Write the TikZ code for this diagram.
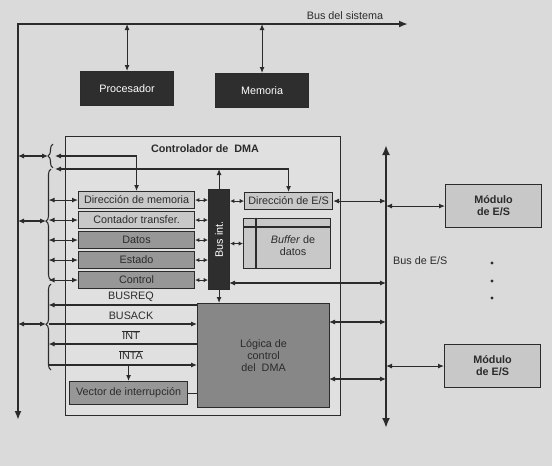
\documentclass[tikz,border=0pt]{standalone}
\usepackage{fontspec}
\setmainfont{Liberation Sans}
\usetikzlibrary{arrows.meta,decorations.pathreplacing,calc}
\definecolor{pagebg}{HTML}{DADADA}
\definecolor{ink}{HTML}{2B2B2B}
\definecolor{darkbox}{HTML}{2E2E2E}
\definecolor{lightbox}{HTML}{C8C8C8}
\definecolor{midbox}{HTML}{979797}
\definecolor{logicbox}{HTML}{878787}
\definecolor{ctrlbox}{HTML}{E0E0E0}
\newcommand{\dfont}{\fontsize{10.8}{12}\selectfont}
\begin{document}
\begin{tikzpicture}[x=1pt,y=-1pt,
 txt/.style={font=\dfont, text=ink, inner sep=0pt},
 box/.style={txt, draw=ink, line width=1.1pt, anchor=north west, align=center},
 ln/.style={draw=ink, line width=1.05pt},
 dar/.style={ln, {Latex[length=6pt,width=5pt]}-{Latex[length=6pt,width=5pt]}},
 ar/.style={ln, -{Latex[length=6pt,width=5pt]}},
 sdar/.style={ln, {Latex[length=4.3pt,width=4.3pt]}-{Latex[length=4.3pt,width=4.3pt]}},
 sysbus/.style={draw=ink, line width=2.2pt, {Latex[length=9pt,width=7pt]}-{Latex[length=9pt,width=7pt]}},
 iobus/.style={draw=ink, line width=2.8pt, {Latex[length=10pt,width=8pt]}-{Latex[length=10pt,width=8pt]}},
 brc/.style={ln, decorate, decoration={brace, amplitude=5pt, aspect=#1}},
 dotnode/.style={circle, fill=ink, inner sep=0pt, minimum size=3.4pt}
]
\fill[pagebg] (0,0) rectangle (552,466);
\useasboundingbox (0,0) rectangle (552,466);

% system bus
\coordinate (sbC) at (18,24);
\coordinate (sbB) at (18,420);
\coordinate (sbE) at (408,24);
\draw[sysbus] (sbB) -- (sbC) -- (sbE);
\node[txt, anchor=south] (sblabel) at (345,20) {Bus del sistema};

% processor and memory
\node[box, fill=darkbox, text=white, minimum width=93pt, minimum height=34pt] (proc) at (80,71) {Procesador};
\node[box, fill=darkbox, text=white, minimum width=93pt, minimum height=34pt] (mem) at (215,73) {Memoria};
\draw[dar] (proc.north |- sbC) -- (proc.north);
\draw[dar] (mem.north |- sbC) -- (mem.north);

% controller
\node[box, fill=ctrlbox, minimum width=275pt, minimum height=279pt] (dmac) at (65,136) {};
\node[txt, font=\bfseries\dfont] (dmatitle) at (205,149) {Controlador de \ DMA};

% registers
\node[box, fill=lightbox, minimum width=116pt, minimum height=17pt] (rdir) at (78,191) {Dirección de memoria};
\node[box, fill=lightbox, minimum width=116pt, minimum height=17pt] (rcnt) at (78,211) {Contador transfer.};
\node[box, fill=midbox, minimum width=116pt, minimum height=17pt] (rdat) at (78,231) {Datos};
\node[box, fill=midbox, minimum width=116pt, minimum height=17pt] (rest) at (78,251) {Estado};
\node[box, fill=midbox, minimum width=116pt, minimum height=17pt] (rctl) at (78,271) {Control};

% internal bus
\node[box, fill=darkbox, minimum width=21pt, minimum height=100pt] (busint) at (208,189) {};
\node[txt, text=white, rotate=90] (busintlbl) at (busint.center) {Bus int.};
\foreach \r in {rdir,rcnt,rdat,rest,rctl}
  \draw[sdar] (\r.east) -- (\r.east -| busint.west);

% I/O address and buffer
\node[box, fill=lightbox, minimum width=88pt, minimum height=17pt] (rdes) at (244,192) {Dirección de E/S};
\draw[sdar] (busint.east |- rdes.west) -- (rdes.west);
\node[box, fill=lightbox, minimum width=87pt, minimum height=50pt] (buf) at (243,218) {};
\draw[ln] ($(buf.north west)+(0,9)$) -- ($(buf.north east)+(0,9)$);
\draw[ln] ($(buf.north west)+(13,0)$) -- ($(buf.south west)+(13,0)$);
\node[txt, align=center] (buftxt) at ($(buf.center)+(6,2)$) {\textit{Buffer} de\\datos};
\draw[sdar] (busint.east |- buf.west) -- (buf.west);

% brace 1 (address lines)
\draw[brc=0.5] (53,168) -- (53,144);
\coordinate (b1tip) at (48,156);
\draw[dar] (sbC |- b1tip) -- (b1tip);
\coordinate (la) at (55,156);
\coordinate (lb) at (55,169);
\draw[dar] (la) -| (rdir.north);
\draw[dar] (lb) -| (rdes.north);
\draw[ar] (busint.north) -- (busint.north |- lb);

% brace 2 (registers)
\draw[brc=0.53] (51,280) -- (51,169);
\coordinate (b2tip) at (46,221);
\draw[dar] (sbC |- b2tip) -- (b2tip);
\coordinate (b2x) at (48.5,0);
\foreach \r in {rdir,rcnt,rdat,rest,rctl}
  \draw[dar] (\r.west -| b2x) -- (\r.west);

% control logic
\node[box, fill=logicbox, minimum width=132pt, minimum height=104pt] (logic) at (197,303) {Lógica de\\control\\del~~DMA};
\draw[ar] (busint.south) -- (busint.south |- logic.north);

% brace 3 (control signals)
\draw[brc=0.53] (51,370) -- (51,284);
\coordinate (b3tip) at (46,324);
\draw[dar] (sbC |- b3tip) -- (b3tip);
\coordinate (qreq) at (48.5,305);
\coordinate (qack) at (48.5,324);
\coordinate (qint) at (48.5,344);
\coordinate (qinta) at (48.5,365);
\draw[ar] (logic.west |- qreq) -- (qreq);
\draw[ar] (qack) -- (logic.west |- qack);
\draw[ar] (logic.west |- qint) -- (qint);
\draw[ar] (qinta) -- (logic.west |- qinta);
\node[txt] (lreq) at (131,297) {BUSREQ};
\node[txt] (lack) at (131,316) {BUSACK};
\node[txt] (lint) at (131,335) {$\overline{\hbox{INT}}$};
\node[txt] (linta) at (131,355) {$\overline{\hbox{INTA}}$};

% interrupt vector
\node[box, fill=midbox, minimum width=118pt, minimum height=23pt] (vec) at (69,381) {Vector de interrupción};
\draw[ar] (vec.north |- qinta) -- (vec.north);
\draw[ln] (vec.east) -- (vec.east -| logic.west);

% I/O bus
\coordinate (ioT) at (386,145);
\coordinate (ioB) at (386,428);
\draw[iobus] (ioB) -- (ioT);
\node[txt, anchor=west] (iolbl) at (393,261) {Bus de E/S};
\coordinate (qbus) at (229,283);
\coordinate (qlog1) at (329,322);
\coordinate (qlog2) at (329,379);
\draw[dar] (rdes.east) -- (rdes.east -| ioT);
\draw[dar] (qbus) -- (qbus -| ioT);
\draw[dar] (qlog1) -- (qlog1 -| ioT);
\draw[dar] (qlog2) -- (qlog2 -| ioT);

% I/O modules
\node[box, fill=lightbox, font=\bfseries\dfont, minimum width=96pt, minimum height=43pt] (modA) at (445,184) {Módulo\\de E/S};
\node[box, fill=lightbox, font=\bfseries\dfont, minimum width=96pt, minimum height=43pt] (modB) at (444,344) {Módulo\\de E/S};
\draw[dar] (modA.west -| ioT) -- (modA.west);
\draw[dar] (modB.west -| ioT) -- (modB.west);
\node[dotnode] (dotA) at (492,263) {};
\node[dotnode] (dotB) at (492,281) {};
\node[dotnode] (dotC) at (492,298) {};
\end{tikzpicture}
\end{document}
